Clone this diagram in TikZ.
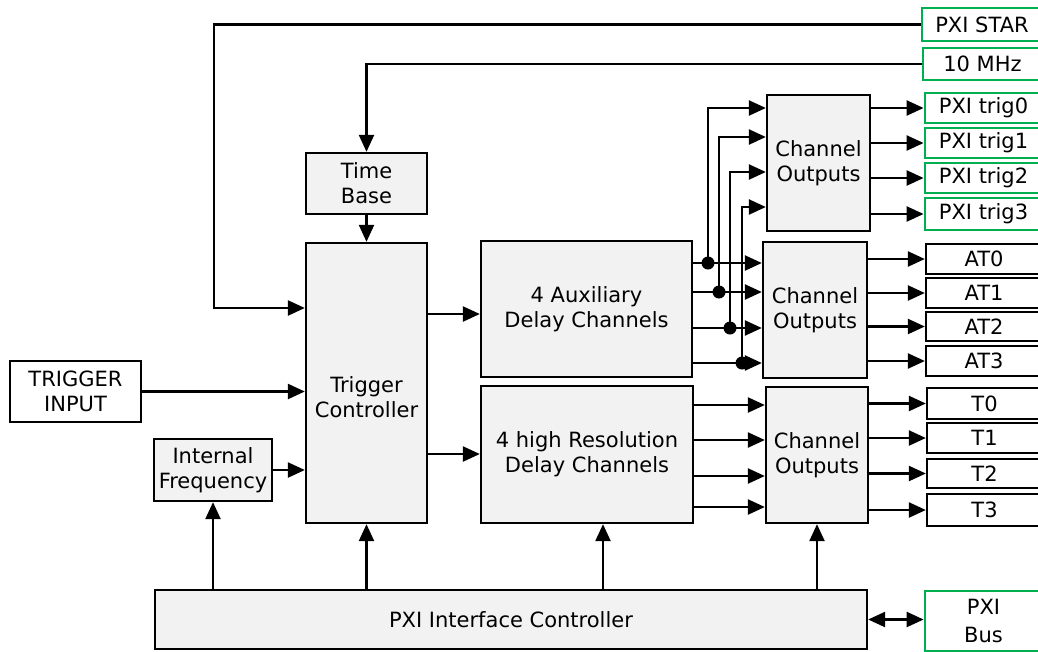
\documentclass[tikz,border=0pt]{standalone}
\usepackage{fontspec}
\setmainfont{DejaVu Sans}
\usetikzlibrary{arrows.meta}
\definecolor{boxfill}{HTML}{F2F2F2}
\definecolor{pxigreen}{HTML}{00B050}
\begin{document}
\begin{tikzpicture}[x=1pt,y=-1pt,
  font=\fontsize{21}{25}\selectfont,
  box/.style={draw=black, line width=2.3pt, fill=boxfill, inner sep=0pt, align=center},
  wbox/.style={draw=black, line width=2.3pt, fill=white, inner sep=0pt, align=center},
  gbox/.style={draw=pxigreen, line width=2.8pt, fill=white, inner sep=0pt, align=center},
  arr/.style={line width=2.3pt, -{Triangle[length=17pt,width=15pt]}},
  darr/.style={line width=2.3pt, {Triangle[length=17pt,width=15pt]}-{Triangle[length=17pt,width=15pt]}},
  dot/.style={circle, fill=black, inner sep=0pt, minimum size=13pt}]
\useasboundingbox (0,0) rectangle (1038,651);

% main blocks
\node[box, minimum width=121pt, minimum height=61pt] (tb) at (366.5,183.5) {Time\\Base};
\node[box, minimum width=121pt, minimum height=280pt,
  label={[align=center,yshift=-14pt]center:Trigger\\Controller}] (tc) at (366.5,383) {};
\node[wbox, minimum width=131pt, minimum height=61pt] (ti) at (75.5,391.5) {TRIGGER\\INPUT};
\node[box, minimum width=118pt, minimum height=62pt] (iff) at (213,470) {Internal\\Frequency};
\node[box, minimum width=211pt, minimum height=136pt] (aux) at (586.5,309) {4 Auxiliary\\Delay Channels};
\node[box, minimum width=212pt, minimum height=137pt] (hr) at (587,454.5) {4 high Resolution\\Delay Channels};
\node[box, minimum width=103pt, minimum height=136pt] (co1) at (818.5,163) {Channel\\Outputs};
\node[box, minimum width=104pt, minimum height=136pt] (co2) at (815,310) {Channel\\Outputs};
\node[box, minimum width=102pt, minimum height=136pt] (co3) at (817,455) {Channel\\Outputs};
\node[box, minimum width=712pt, minimum height=59pt] (pic) at (511,619.5) {PXI Interface Controller};

% right-hand terminals
\node[gbox, minimum width=120pt, minimum height=33pt] (star) at (982,24.5) {PXI STAR};
\node[gbox, minimum width=119pt, minimum height=32pt] (mhz) at (982.5,64) {10 MHz};
\node[gbox, minimum width=117pt, minimum height=30pt] (trig0) at (983.5,108) {PXI trig0};
\node[gbox, minimum width=117pt, minimum height=30pt] (trig1) at (983.5,143) {PXI trig1};
\node[gbox, minimum width=117pt, minimum height=30pt] (trig2) at (983.5,178) {PXI trig2};
\node[gbox, minimum width=117pt, minimum height=32pt] (trig3) at (983.5,214) {PXI trig3};
\node[wbox, minimum width=116pt, minimum height=30pt] (AT0) at (984,259) {AT0};
\node[wbox, minimum width=116pt, minimum height=30pt] (AT1) at (984,293) {AT1};
\node[wbox, minimum width=116pt, minimum height=29pt] (AT2) at (984,326.5) {AT2};
\node[wbox, minimum width=116pt, minimum height=30pt] (AT3) at (984,361) {AT3};
\node[wbox, minimum width=115pt, minimum height=31pt] (T0) at (984.5,403.5) {T0};
\node[wbox, minimum width=115pt, minimum height=30pt] (T1) at (984.5,438) {T1};
\node[wbox, minimum width=115pt, minimum height=29pt] (T2) at (984.5,473.5) {T2};
\node[wbox, minimum width=115pt, minimum height=32pt] (T3) at (984.5,510) {T3};
\node[gbox, minimum width=117pt, minimum height=60pt, font=\fontsize{21}{28}\selectfont] (bus) at (983.5,621) {PXI\\Bus};

% connectors
\draw[arr] (mhz.west) -| (tb.north);
\coordinate (sc) at (214,308);
\draw[arr] (star.west) -| (sc) -- (tc.west |- sc);
\draw[arr] (tb.south) -- (tc.north);
\draw[arr] (ti.east) -- (tc.west |- ti.east);
\draw[arr] (iff.east) -- (tc.west |- iff.east);
\draw[arr] (tc.east |- 0,314) -- (aux.west |- 0,314);
\draw[arr] (tc.east |- 0,454) -- (hr.west |- 0,454);

\foreach \y/\xd/\yt [count=\i] in {263/708/108, 292/719/137, 328/730/172, 363/742/207} {
  \draw[arr] (aux.east |- 0,\y) -- (co2.west |- 0,\y);
  \node[dot] (d\i) at (\xd,\y) {};
  \draw[arr] (d\i.center) |- (co1.west |- 0,\yt);
}
\foreach \y in {405,440,476,507}
  \draw[arr] (hr.east |- 0,\y) -- (co3.west |- 0,\y);

\foreach \n in {trig0,trig1,trig2,trig3}
  \draw[arr] (co1.east |- \n.west) -- (\n.west);
\foreach \n in {AT0,AT1,AT2,AT3}
  \draw[arr] (co2.east |- \n.west) -- (\n.west);
\foreach \n in {T0,T1,T2,T3}
  \draw[arr] (co3.east |- \n.west) -- (\n.west);

\draw[arr] (pic.north -| iff.south) -- (iff.south);
\draw[arr] (pic.north -| tc.south) -- (tc.south);
\draw[arr] (pic.north -| 603,0) -- (hr.south -| 603,0);
\draw[arr] (pic.north -| co3.south) -- (co3.south);
\draw[darr] (pic.east) -- (bus.west |- pic.east);
\end{tikzpicture}
\end{document}
